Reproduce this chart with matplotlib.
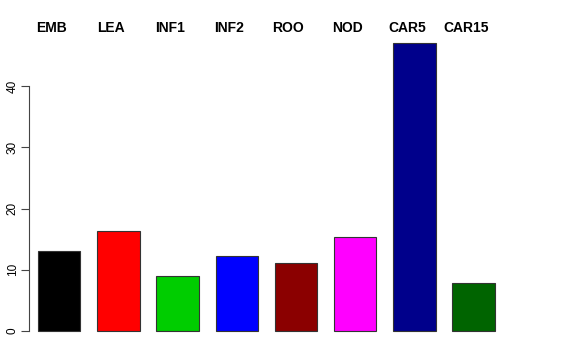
import matplotlib
matplotlib.use("Agg")
import matplotlib.pyplot as plt
import numpy as np

plt.rcParams['font.family'] = ['Liberation Sans', 'DejaVu Sans']

tissues = ["EMB", "LEA", "INF1", "INF2", "ROO", "NOD", "CAR5", "CAR15"]
values = [13.05, 16.4, 9.0, 12.3, 11.05, 15.4, 47.05, 7.8]
colors = ["#000000", "#FF0000", "#00CD00", "#0000FF", "#8B0000", "#FF00FF", "#00008B", "#006400"]
yticks = [0, 10, 20, 30, 40]

fig = plt.figure(figsize=(5.76, 3.6), dpi=100)
# axes placed to match the R barplot region
ax = fig.add_axes([29 / 576, 1 - 342.5 / 360, (513 - 29) / 576, (342.5 - 31.5) / 360])

# R style barplot: width 1, space 0.4
x = 0.9 + 1.4 * np.arange(len(values))
ax.bar(x, values, width=1.0, color=colors, edgecolor="#333333", linewidth=0.8)

ax.set_xlim(0.187, 11.632)
ax.set_ylim(-1.88, 48.94)

for s in ["top", "right", "bottom"]:
    ax.spines[s].set_visible(False)
ax.spines["left"].set_bounds(0, 40)
ax.spines["left"].set_linewidth(0.8)
ax.spines["left"].set_color("#444444")
ax.set_xticks([])
ax.set_yticks(yticks)
ax.set_yticklabels([str(t) for t in yticks], rotation=90, va="center", fontsize=8.5)
ax.tick_params(axis="y", length=5.5, width=0.8, pad=2, color="#444444")

for xi, name in zip(x, tissues):
    ax.text(xi - 0.18, 49.5, name, ha="center", va="center", fontsize=10,
            fontweight="bold", clip_on=False)

fig.savefig("out.png", dpi=100)
